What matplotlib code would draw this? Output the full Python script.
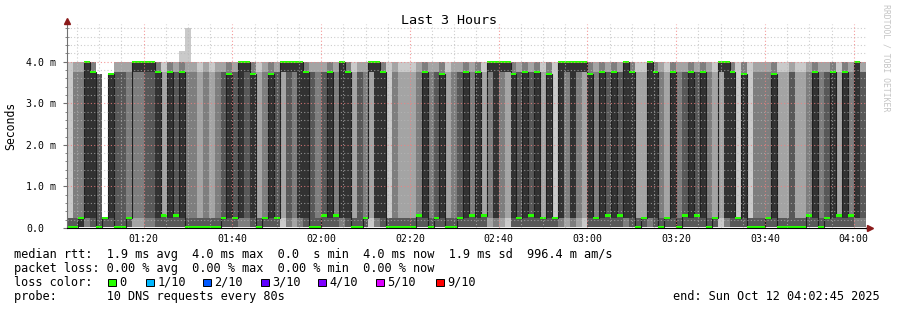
import matplotlib
matplotlib.use("Agg")
import matplotlib.pyplot as plt
from matplotlib.patches import Rectangle
import numpy as np

W, H = 897, 310
MONO = "DejaVu Sans Mono"

# 10 DNS pings per 80 s step, 01:02:40 .. 04:02:40 (135 steps)
# how many of the ten pings fell in each group
n_zero = [6, 6, 5, 3, 4, 6, 4, 4, 6, 6,
          4, 2, 2, 3, 3, 4, 4, 4, 4, 4,
          6, 6, 6, 6, 6, 6, 4, 4, 4, 3,
          3, 4, 6, 4, 4, 4, 1, 3, 2, 3,
          4, 6, 6, 4, 4, 4, 3, 4, 6, 6,
          4, 1, 3, 4, 6, 6, 6, 6, 6, 4,
          4, 6, 4, 4, 6, 6, 4, 4, 4, 4,
          4, 2, 3, 2, 1, 4, 4, 4, 4, 4,
          4, 4, 4, 3, 2, 3, 2, 1, 4, 4,
          4, 4, 4, 4, 3, 4, 6, 4, 3, 4,
          6, 4, 4, 6, 4, 4, 4, 4, 6, 4,
          1, 3, 4, 4, 4, 6, 6, 6, 4, 4,
          6, 6, 6, 6, 6, 4, 4, 6, 4, 4,
          4, 4, 4, 3, 3]
n_fast = [3, 1, 2, 2, 1, 0, 6, 1, 0, 0,
          3, 1, 1, 1, 1, 1, 4, 1, 2, 1,
          1, 1, 2, 1, 2, 1, 2, 1, 2, 2,
          1, 1, 2, 3, 1, 2, 1, 1, 1, 2,
          1, 0, 1, 2, 1, 3, 2, 1, 2, 0,
          3, 1, 2, 1, 3, 1, 2, 2, 2, 3,
          1, 1, 2, 1, 2, 1, 2, 1, 3, 1,
          4, 1, 2, 1, 1, 1, 2, 1, 2, 1,
          4, 1, 5, 2, 1, 2, 1, 1, 1, 3,
          1, 2, 1, 2, 2, 1, 2, 4, 2, 1,
          1, 4, 1, 1, 2, 1, 2, 1, 1, 4,
          1, 2, 1, 5, 1, 3, 1, 1, 3, 1,
          2, 2, 0, 2, 2, 3, 1, 1, 2, 1,
          4, 1, 3, 2, 3]
n_slow = [0, 1, 1, 0, 2, 4, 0, 5, 2, 2,
          1, 2, 2, 1, 1, 2, 1, 2, 2, 2,
          1, 1, 1, 1, 1, 1, 2, 2, 2, 0,
          1, 2, 1, 1, 2, 2, 3, 1, 2, 0,
          2, 2, 1, 2, 2, 1, 0, 2, 1, 2,
          1, 3, 0, 2, 0, 1, 1, 1, 1, 1,
          2, 1, 2, 2, 1, 1, 2, 2, 1, 2,
          1, 2, 0, 2, 3, 2, 2, 2, 2, 2,
          1, 2, 0, 0, 2, 0, 2, 3, 2, 1,
          2, 2, 2, 2, 0, 2, 1, 1, 0, 2,
          1, 1, 2, 1, 2, 2, 2, 2, 1, 1,
          3, 0, 2, 0, 2, 0, 1, 1, 1, 2,
          1, 1, 2, 1, 1, 1, 2, 1, 2, 2,
          1, 2, 1, 0, 2]
n_top = [1, 2, 2, 5, 3, 0, 0, 0, 2, 2,
         2, 5, 5, 5, 5, 3, 1, 3, 2, 3,
         2, 2, 1, 2, 1, 2, 2, 3, 2, 5,
         5, 3, 1, 2, 3, 2, 5, 5, 5, 5,
         3, 2, 2, 2, 3, 2, 5, 3, 1, 2,
         2, 5, 5, 3, 1, 2, 1, 1, 1, 2,
         3, 2, 2, 3, 1, 2, 2, 3, 2, 3,
         1, 5, 5, 5, 5, 3, 2, 3, 2, 3,
         1, 3, 1, 5, 5, 5, 5, 5, 3, 2,
         3, 2, 3, 2, 5, 3, 1, 1, 5, 3,
         2, 1, 3, 2, 2, 3, 2, 3, 2, 1,
         5, 5, 3, 1, 3, 1, 2, 2, 2, 3,
         1, 1, 2, 1, 1, 2, 3, 2, 2, 3,
         1, 3, 2, 5, 2]

# group levels (ms) and the steps where a level differs
zero_ms, fast_ms, slow_ms, top_ms = 0.02, 0.25, 3.76, 4.0
fast_030_steps = [16, 18, 43, 45, 59, 68, 70, 78, 91, 93, 104, 106, 125, 130, 132]
slow_370_steps = [5, 7, 27, 31, 34, 63, 75, 81, 88, 114, 119]
peak_steps = [19, 20]
peak_ms = [4.26, 4.8]

rows = []
for j in range(len(n_zero)):
    f = 0.30 if j in fast_030_steps else fast_ms
    s = 3.70 if j in slow_370_steps else slow_ms
    rows.append([zero_ms] * n_zero[j] + [f] * n_fast[j] + [s] * n_slow[j] + [top_ms] * n_top[j])
pings = np.array(rows)
for j, v in zip(peak_steps, peak_ms):
    pings[j, 9] = v
pings = np.sort(pings, axis=1)
n = len(pings)
edges = 64.0 + (np.arange(n + 1) - 1) * 80 / 60   # minutes after midnight

fig = plt.figure(figsize=(W / 100, H / 100), dpi=100)
left, right, top, bottom = 67, 866, 24.3, 228
ax = fig.add_axes([left / W, 1 - bottom / H, (right - left) / W, (bottom - top) / H])
ax.set_xlim(62.75, 242.75)
ax.set_ylim(0, 4.9)

# smoke: outer pair of pings lightest, inner pair darkest
grays = ["#cacaca", "#a4a4a4", "#7e7e7e", "#585858", "#323232"]
for i in range(5):
    ax.stairs(pings[:, 9 - i], edges, baseline=pings[:, i], fill=True,
              color=grays[i], lw=0, zorder=2 + i)

med = pings[:, 5].copy()
med[-1] = np.nan   # newest step has no median yet
sw = 0.026
ax.stairs(med, edges, baseline=None, color="#202020", lw=0.8, zorder=8)
ax.stairs(med + sw, edges, baseline=med - sw, fill=True, color="#26ff00", lw=0, zorder=9)

# grid on top, like rrdtool
for y in np.arange(0.2, 4.81, 0.2):
    major = abs(y - round(y)) < 1e-6
    ax.axhline(y, color=(0.95, 0.5, 0.5) if major else (0.72, 0.72, 0.72),
               alpha=0.8 if major else 0.7, lw=0.8, ls=(0, (1, 2)), zorder=20)
for x in np.arange(65, 241, 5):
    major = x % 20 == 0
    ax.axvline(x, color=(0.95, 0.5, 0.5) if major else (0.72, 0.72, 0.72),
               alpha=0.8 if major else 0.7, lw=0.8, ls=(0, (1, 2)), zorder=20)

for s in ["top", "right"]:
    ax.spines[s].set_visible(False)
ax.spines["left"].set_color("#707070")
ax.spines["bottom"].set_color("#000000")
ax.spines["left"].set_zorder(25)
ax.spines["bottom"].set_zorder(25)

ax.set_xticks(np.arange(80, 241, 20))
ax.set_xticklabels(["%02d:%02d" % (m // 60, m % 60) for m in range(80, 241, 20)])
ax.set_yticks([0, 1, 2, 3, 4])
ax.set_yticks(np.arange(0.2, 4.81, 0.2), minor=True)
ax.set_yticklabels(["0.0", "1.0 m", "2.0 m", "3.0 m", "4.0 m"])
ax.tick_params(axis="x", length=0, pad=4, labelsize=7.1)
ax.tick_params(axis="y", length=3, pad=26.5, labelsize=7.1, color="#707070")
ax.tick_params(axis="y", which="minor", length=3, direction="inout", width=0.6,
               color="#707070")
for t in ax.get_yticklabels():
    t.set_ha("left")
for t in ax.get_xticklabels() + ax.get_yticklabels():
    t.set_family(MONO)

ax.plot([0], [1.0 + 3 / 204], marker="^", ms=5, color="#8b1a1a", transform=ax.transAxes,
        clip_on=False, zorder=30)
ax.plot([1 + 4 / 799], [0], marker=">", ms=5, color="#8b1a1a", transform=ax.transAxes,
        clip_on=False, zorder=30)
ax.plot([1, 1 + 4 / 799], [0, 0], color="black", lw=1, transform=ax.transAxes, clip_on=False)

fig.text(448.5 / W, 1 - 24 / H, "Last 3 Hours", family=MONO, fontsize=9.6, ha="center",
         va="baseline")
fig.text(11 / W, 1 - 126 / H, "Seconds", family=MONO, fontsize=8.3, rotation=90,
         ha="center", va="center")
fig.text(886 / W, 1 - 4 / H, "RRDTOOL / TOBI OETIKER", family=MONO, fontsize=5.9,
         rotation=270, ha="center", va="top", color="#c4c4c4")

fs = 8.6
x0 = 13.5
lines = [
    "median rtt:  1.9 ms avg  4.0 ms max  0.0  s min  4.0 ms now  1.9 ms sd  996.4 m am/s",
    "packet loss: 0.00 % avg  0.00 % max  0.00 % min  0.00 % now",
    "loss color:",
    "probe:       10 DNS requests every 80s",
]
for k, txt in enumerate(lines):
    fig.text(x0 / W, 1 - (257.7 + 14 * k) / H, txt, family=MONO, fontsize=fs, va="baseline")

loss_labels = ["0", "1/10", "2/10", "3/10", "4/10", "5/10", "9/10"]
loss_colors = ["#26ff00", "#00b8ff", "#0059ff", "#5e00ff", "#7e00ff", "#dd00ff", "#ff0000"]
box_x = [108, 146, 203, 261, 318, 376, 436]
for bx, lab, col in zip(box_x, loss_labels, loss_colors):
    fig.patches.append(Rectangle((bx / W, 1 - 286 / H), 7.5 / W, 7.5 / H, facecolor=col,
                                 edgecolor="black", lw=0.7, transform=fig.transFigure))
    fig.text((bx + 11.5) / W, 1 - 285.7 / H, lab, family=MONO, fontsize=fs, va="baseline")

fig.text(880 / W, 1 - 299.7 / H, "end: Sun Oct 12 04:02:45 2025", family=MONO,
         fontsize=fs, ha="right", va="baseline")

fig.savefig("out.png", dpi=100)
